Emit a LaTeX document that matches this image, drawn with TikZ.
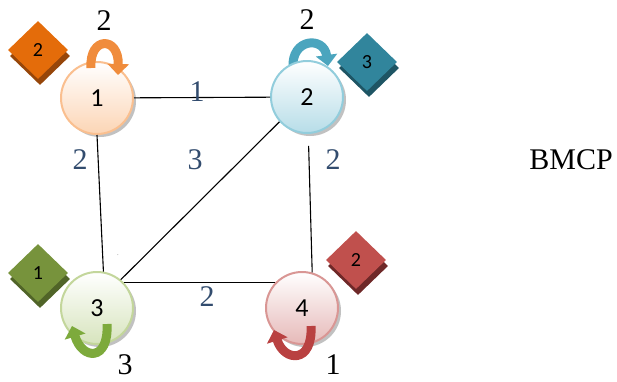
\documentclass[tikz,border=0pt]{standalone}
\usepackage{fontspec}
\setmainfont{Liberation Serif}
\newfontfamily\calfont{Carlito}
\usetikzlibrary{shapes.geometric,shadows,arrows.meta,calc}
\definecolor{elab}{RGB}{50,76,110}
\definecolor{oFill}{RGB}{252,213,181}\definecolor{oLine}{RGB}{250,191,143}
\definecolor{bFill}{RGB}{183,221,232}\definecolor{bLine}{RGB}{146,205,220}
\definecolor{gFill}{RGB}{215,228,189}\definecolor{gLine}{RGB}{195,214,155}
\definecolor{rFill}{RGB}{230,185,184}\definecolor{rLine}{RGB}{217,150,148}
\definecolor{oDia}{RGB}{228,108,10}\definecolor{oDiaS}{RGB}{150,70,10}
\definecolor{bDia}{RGB}{49,133,156}\definecolor{bDiaS}{RGB}{30,85,100}
\definecolor{gDia}{RGB}{119,147,60}\definecolor{gDiaS}{RGB}{80,100,40}
\definecolor{rDia}{RGB}{192,80,77}\definecolor{rDiaS}{RGB}{110,40,40}
\definecolor{oArr}{RGB}{240,140,60}
\definecolor{bArr}{RGB}{75,165,190}
\definecolor{gArr}{RGB}{125,170,60}
\definecolor{rArr}{RGB}{185,65,65}
\tikzset{
  vnode/.style={circle,minimum size=72pt,inner sep=0pt,line width=2pt,
    font=\calfont\fontsize{26}{26}\selectfont,
    drop shadow={shadow xshift=3pt,shadow yshift=-3pt,fill=black!30,opacity=0.8}},
  edgelab/.style={font=\fontsize{30}{30}\selectfont,text=elab,inner sep=0pt},
  toplab/.style={font=\fontsize{30}{30}\selectfont,inner sep=0pt},
  dia/.style={diamond,minimum width=60pt,minimum height=58pt,inner sep=0pt,
    font=\calfont\fontsize{20}{20}\selectfont},
  edge/.style={line width=1.1pt,black},
  loopar/.style={line width=9pt,-{Triangle[width=21pt,length=11pt]}},
}
\begin{document}
\begin{tikzpicture}[x=1pt,y=-1pt]
\useasboundingbox (0,0) rectangle (617,381);
% loop behind node 2
\draw[loopar,bArr] (293,68) .. controls (291,38) and (324,36) .. (328,66);
% nodes
\node[vnode,draw=oLine,top color=white,bottom color=oFill] (n1) at (97,98) {1};
\node[vnode,draw=bLine,top color=white,bottom color=bFill] (n2) at (307,97) {2};
\node[vnode,draw=gLine,top color=white,bottom color=gFill] (n3) at (97,308) {3};
\node[vnode,draw=rLine,top color=white,bottom color=rFill] (n4) at (302,308) {4};
% edges
\draw[edge] (n1) -- (n2);
\draw[edge] (n1.-90) -- (n3.80);
\draw[edge] (n2.222) -- (n3.50);
\draw[edge,shorten <=12pt] (n2.-88) -- (n4.74);
\draw[edge] (n3.44) -- (n4.136);
% loops in front
\draw[loopar,oArr] (91,68) .. controls (89,36) and (119,36) .. (118,75);
\draw[loopar,gArr] (107,324) .. controls (109,362) and (82,360) .. (72,326);
\draw[loopar,rArr] (311,326) .. controls (313,364) and (284,362) .. (274,330);
% edge labels
\node[edgelab] (w12) at (197,92) {1};
\node[edgelab] (w13) at (80,160) {2};
\node[edgelab] (w23) at (195,160) {3};
\node[edgelab] (w24) at (333,160) {2};
\node[edgelab] (w34) at (207,297) {2};
% loop labels
\node[toplab] (l1) at (104,21) {2};
\node[toplab] (l2) at (307,20) {2};
\node[toplab] (l3) at (125,365) {3};
\node[toplab] (l4) at (333,365) {1};
\node[font=\fontsize{5}{5}\selectfont,inner sep=0pt] (dot) at (118,255) {.};
% diamonds
\node[dia,fill=oDiaS] at (40,56) {};
\node[dia,fill=oDia] (d1) at (38,50) {2};
\node[dia,fill=bDiaS] at (369,68) {};
\node[dia,fill=bDia] (d2) at (367,62) {3};
\node[dia,fill=gDiaS] at (40,279) {};
\node[dia,fill=gDia] (d3) at (38,273) {1};
\node[dia,fill=rDiaS] at (358,266) {};
\node[dia,fill=rDia] (d4) at (356,260) {2};
% title
\node[font=\fontsize{30}{30}\selectfont,inner sep=0pt] (t) at (571,160) {BMCP};
\end{tikzpicture}
\end{document}
